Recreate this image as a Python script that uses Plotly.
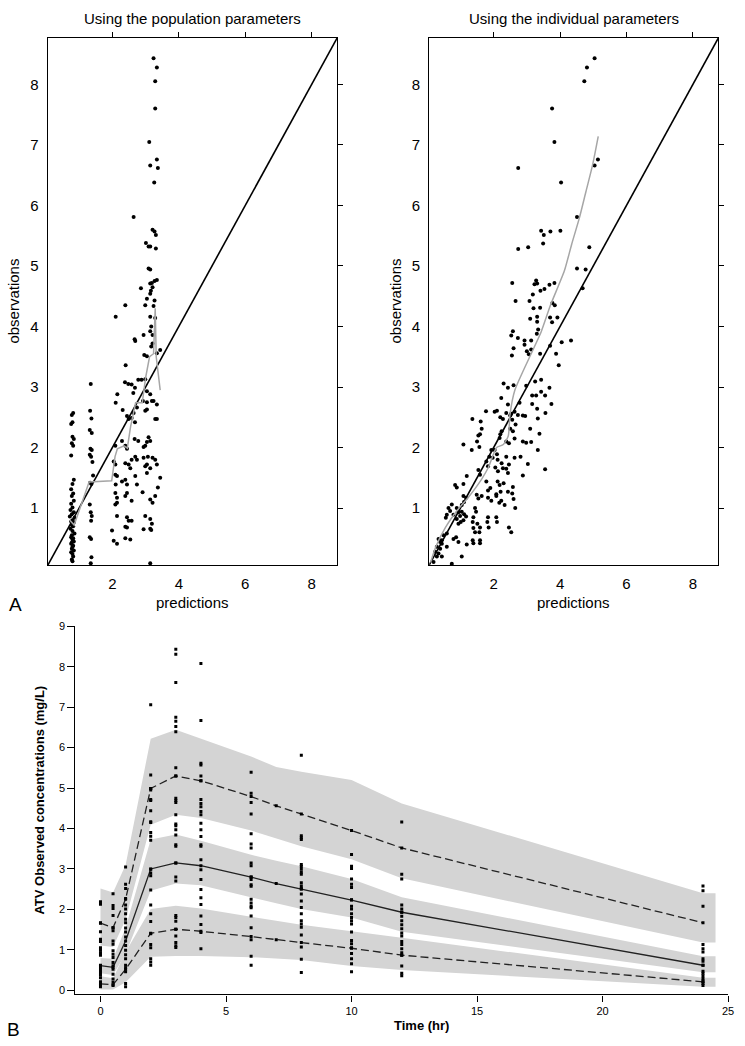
import plotly.graph_objects as go

# ---------------- Panel A : observations vs predictions ----------------
identity_line = [0, 9]

# population predictions (x = prediction, y = observation)
pop_col1 = [(0.82, 2.57), (0.78, 2.54), (0.80, 2.42), (0.76, 2.39), (0.80, 2.18), (0.84, 2.14),
            (0.78, 2.07), (0.82, 2.03), (0.76, 1.87), (0.84, 1.47), (0.80, 1.40), (0.76, 1.31),
            (0.82, 1.24), (0.78, 1.20), (0.84, 1.12), (0.76, 1.07), (0.80, 1.01), (0.74, 0.97),
            (0.84, 0.93), (0.78, 0.90), (0.72, 0.86), (0.86, 0.84), (0.80, 0.80), (0.76, 0.78),
            (0.84, 0.76), (0.78, 0.72), (0.82, 0.70), (0.74, 0.66), (0.80, 0.62), (0.86, 0.58),
            (0.78, 0.55), (0.76, 0.52), (0.82, 0.50), (0.80, 0.48), (0.84, 0.45), (0.78, 0.43),
            (0.76, 0.41), (0.82, 0.38), (0.80, 0.36), (0.78, 0.33), (0.84, 0.30), (0.76, 0.27),
            (0.80, 0.24), (0.82, 0.20), (0.78, 0.15), (0.80, 0.12)]
pop_col2 = [(1.35, 3.05), (1.33, 2.61), (1.37, 2.48), (1.32, 2.29), (1.38, 2.24), (1.34, 1.98),
            (1.38, 1.96), (1.32, 1.88), (1.36, 1.85), (1.40, 1.76), (1.42, 1.54), (1.33, 1.42),
            (1.37, 1.40), (1.32, 1.06), (1.35, 0.93), (1.38, 0.87), (1.36, 0.79), (1.32, 0.52),
            (1.36, 0.49), (1.37, 0.19), (1.35, 0.09)]
pop_spread = [(2.39, 4.35), (2.99, 4.35), (3.24, 4.34), (2.10, 4.16), (3.14, 4.16), (3.29, 4.14),
              (2.67, 3.79), (2.69, 3.76), (2.94, 3.86), (3.04, 3.51), (2.96, 3.53), (3.17, 4.00),
              (3.14, 3.92), (3.21, 3.86), (3.21, 3.72), (3.17, 3.67), (3.34, 3.56), (3.44, 3.61),
              (2.40, 3.36), (2.38, 3.08), (2.48, 3.05), (2.15, 2.88), (2.10, 2.74), (2.58, 3.04),
              (2.68, 2.99), (2.63, 2.90), (2.78, 3.12), (2.88, 3.12), (2.99, 3.13), (3.04, 2.93),
              (3.14, 2.88), (3.24, 2.77), (2.92, 2.77), (3.04, 2.75), (3.19, 2.77), (3.34, 2.71),
              (2.74, 2.66), (2.64, 2.57), (2.58, 2.49), (2.68, 2.42), (2.31, 2.62), (2.44, 2.52),
              (2.49, 2.47), (2.99, 2.61), (3.04, 2.63), (3.29, 2.47), (3.34, 2.47), (2.09, 2.03),
              (2.29, 2.11), (2.39, 2.03), (2.44, 1.98), (2.67, 2.14), (2.78, 2.11), (2.99, 2.03),
              (2.94, 2.01), (3.04, 2.09), (3.14, 2.11), (3.09, 2.17), (2.04, 1.77), (2.09, 1.72),
              (2.39, 1.74), (2.49, 1.72), (2.54, 1.66), (2.69, 1.85), (2.74, 1.80), (2.58, 1.80),
              (2.94, 1.83), (3.07, 1.85), (3.21, 1.83), (3.29, 1.80), (3.34, 1.72), (2.99, 1.69),
              (3.04, 1.72), (3.14, 1.66), (2.09, 1.55), (2.14, 1.53), (2.29, 1.44), (2.39, 1.47),
              (2.44, 1.39), (2.69, 1.53), (3.04, 1.58), (3.44, 1.50), (3.37, 1.34), (2.10, 1.39),
              (2.09, 1.25), (2.14, 1.17), (2.14, 1.09), (2.09, 1.06), (2.44, 1.25), (2.39, 1.20),
              (2.58, 1.12), (2.74, 1.39), (2.91, 1.26), (3.14, 1.14), (3.21, 1.09), (3.29, 1.20),
              (2.14, 0.87), (2.44, 0.85), (2.49, 0.79), (2.58, 0.79), (2.99, 0.87), (3.14, 0.82),
              (3.19, 0.74), (3.14, 0.66), (2.39, 0.69), (2.44, 0.68), (1.99, 0.63), (2.94, 0.65),
              (2.04, 0.46), (2.14, 0.41), (2.39, 0.50), (2.54, 0.48), (3.17, 0.64), (3.14, 0.09)]
pop_high = [(3.24, 8.43), (3.34, 8.28), (3.29, 8.05), (3.29, 7.60), (3.11, 7.05), (3.34, 6.76),
            (3.14, 6.66), (3.37, 6.62), (3.26, 6.38), (2.64, 5.81), (3.21, 5.60), (3.27, 5.57),
            (3.31, 5.51), (3.01, 5.38), (3.09, 5.32), (3.14, 5.32), (3.31, 5.29), (3.09, 4.96),
            (3.14, 4.94), (2.86, 4.63), (3.14, 4.71), (3.19, 4.72), (3.27, 4.75), (3.34, 4.77),
            (3.21, 4.65), (3.16, 4.59), (3.14, 4.54), (3.04, 4.46), (3.27, 4.43)]
pop_smooth_x = [0.72, 0.85, 1.30, 1.98, 2.08, 2.15, 2.35, 2.45, 2.55, 2.70, 2.90, 3.00, 3.12, 3.24, 3.29, 3.32, 3.44]
pop_smooth_y = [0.80, 0.72, 1.43, 1.45, 1.85, 1.98, 2.03, 1.99, 2.35, 2.74, 2.74, 3.15, 3.50, 3.55, 4.30, 3.50, 2.95]

# individual predictions
ind_high = [(5.04, 8.43), (4.81, 8.28), (4.73, 8.05), (3.76, 7.60), (3.83, 7.05), (2.74, 6.62),
            (5.14, 6.76), (5.04, 6.66), (4.03, 6.38), (4.51, 5.81), (3.43, 5.58), (3.51, 5.51),
            (3.71, 5.57), (4.01, 5.58), (3.49, 5.37), (2.74, 5.28), (3.04, 5.31), (4.88, 5.31),
            (4.51, 4.96), (4.77, 4.94), (4.68, 4.63)]
ind_mid = [(2.56, 4.72), (3.28, 4.76), (3.23, 4.70), (3.31, 4.71), (3.18, 4.53), (3.41, 4.59),
           (3.53, 4.62), (3.68, 4.69), (3.83, 4.72), (2.66, 4.42), (3.08, 4.42), (3.77, 4.39),
           (3.84, 4.35), (3.20, 4.30), (3.40, 4.31), (3.10, 4.13), (3.31, 4.16), (3.31, 4.08),
           (3.70, 4.15), (3.92, 4.15), (3.76, 4.07), (3.34, 3.95), (3.30, 3.88), (2.58, 3.92),
           (2.53, 3.85), (2.73, 3.81), (2.93, 3.77), (2.93, 3.70), (3.13, 3.77), (2.60, 3.64),
           (2.55, 3.52), (3.00, 3.59), (3.06, 3.54), (3.13, 3.62), (3.40, 3.55), (3.70, 3.68),
           (3.88, 3.55), (3.96, 3.36), (4.05, 3.74), (4.33, 3.77), (3.25, 3.09), (3.43, 3.12)]
ind_low = [(2.30, 3.06), (2.43, 2.99), (2.60, 3.03), (2.98, 3.02), (3.16, 2.86), (3.28, 2.86),
           (3.43, 2.92), (3.55, 2.86), (3.68, 2.99), (3.74, 2.72), (2.23, 2.82), (2.43, 2.71),
           (2.78, 2.74), (3.16, 2.72), (3.31, 2.64), (1.77, 2.60), (2.03, 2.59), (2.10, 2.61),
           (2.38, 2.57), (2.53, 2.56), (2.63, 2.59), (2.73, 2.54), (2.88, 2.53), (2.95, 2.52),
           (1.36, 2.47), (1.61, 2.43), (2.20, 2.50), (2.28, 2.47), (2.50, 2.53), (2.56, 2.46),
           (2.66, 2.38), (3.33, 2.48), (3.56, 2.57), (1.64, 2.31), (1.59, 2.22), (2.24, 2.27),
           (2.20, 2.22), (2.18, 2.16), (2.50, 2.31), (2.58, 2.27), (2.63, 2.15), (2.38, 2.10),
           (2.46, 2.07), (2.88, 2.10), (2.98, 2.08), (3.13, 2.09), (3.10, 2.31), (3.38, 2.23),
           (3.33, 1.96), (1.09, 2.05), (1.34, 1.96), (1.57, 2.01), (1.54, 2.20), (1.50, 2.10),
           (1.93, 1.96), (2.03, 1.96), (2.10, 1.89), (1.87, 1.85), (1.97, 1.83), (2.12, 1.80),
           (2.24, 1.74), (2.28, 1.66), (2.38, 1.85), (2.46, 1.72), (2.38, 1.65), (2.43, 1.58),
           (1.78, 1.77), (1.83, 1.69), (2.05, 1.67), (2.13, 1.61), (2.63, 1.83), (2.81, 1.85),
           (2.88, 1.54), (3.03, 1.73), (3.55, 1.64), (1.19, 1.53), (1.09, 1.40), (0.84, 1.38),
           (0.89, 1.34), (1.54, 1.63), (1.59, 1.55), (1.78, 1.44), (1.90, 1.33), (1.83, 1.29),
           (2.12, 1.44), (2.18, 1.38), (2.30, 1.41), (2.21, 1.27), (2.43, 1.27), (2.08, 1.23),
           (2.08, 1.20), (2.58, 1.35), (2.56, 1.24), (2.60, 1.15), (1.49, 1.22), (1.54, 1.16),
           (1.64, 1.20), (1.83, 1.17), (1.93, 1.12), (2.17, 1.09), (2.23, 1.12), (2.33, 1.05),
           (2.65, 1.00), (1.09, 1.20), (1.17, 1.17), (1.11, 1.10), (1.04, 1.05), (0.74, 1.06),
           (0.64, 1.00), (0.69, 0.95), (0.79, 0.89), (0.89, 1.00), (0.94, 0.93), (0.99, 0.87),
           (1.04, 0.94), (1.11, 0.90), (1.17, 0.86), (1.09, 0.80), (0.59, 0.89), (0.56, 0.84),
           (1.01, 0.77), (0.94, 0.74), (0.89, 0.82), (1.44, 1.00), (1.47, 0.94), (1.39, 0.85),
           (1.37, 0.77), (1.51, 0.74), (1.39, 0.67), (1.44, 0.60), (1.59, 0.68), (1.57, 0.60),
           (1.83, 0.85), (1.81, 0.77), (1.85, 0.68), (2.08, 0.85), (2.10, 0.77), (2.46, 0.68),
           (2.53, 0.60), (1.37, 0.47), (1.39, 0.42), (1.59, 0.47), (1.59, 0.42), (0.59, 0.58),
           (0.49, 0.55), (0.44, 0.47), (0.39, 0.44), (0.34, 0.49), (0.44, 0.41), (0.29, 0.36),
           (0.39, 0.33), (0.24, 0.28), (0.34, 0.25), (0.29, 0.20), (0.44, 0.20), (0.59, 0.36),
           (0.79, 0.49), (0.94, 0.44), (0.87, 0.52), (1.19, 0.40), (1.04, 0.20), (0.19, 0.11),
           (0.74, 0.08)]
ind_smooth_x = [0.10, 0.25, 0.55, 0.90, 1.24, 1.64, 1.84, 2.09, 2.29, 2.44, 2.49, 2.64, 3.13, 3.43, 3.71, 4.13, 4.35, 4.58, 4.78, 4.98, 5.15]
ind_smooth_y = [0.10, 0.35, 0.68, 0.96, 1.18, 1.48, 1.67, 2.00, 2.05, 2.19, 2.54, 2.95, 3.55, 3.91, 4.35, 4.92, 5.36, 5.79, 6.23, 6.67, 7.14]

axis_ticks_a = [2, 4, 6, 8]
axis_ticks_a_y = [1, 2, 3, 4, 5, 6, 7, 8]

# ---------------- Panel B : VPC ----------------
obs_times = [0, 0.5, 1, 2, 3, 4, 6, 8, 10, 12, 24]
obs_t0 = [2.19, 2.13, 1.67, 1.45, 1.26, 1.21, 1.05, 0.99, 0.93, 0.87, 0.62, 0.56, 0.50, 0.44, 0.38, 0.31, 0.21, 0.14, 0.09]
obs_t05 = [2.39, 2.10, 2.02, 1.85, 1.55, 1.47, 1.22, 1.14, 0.98, 0.89, 0.81, 0.69, 0.61, 0.52, 0.40, 0.28, 0.20, 0.12]
obs_t1 = [3.05, 2.62, 2.52, 2.27, 2.11, 2.01, 1.89, 1.76, 1.67, 1.54, 1.44, 1.32, 1.11, 0.99, 0.88, 0.78, 0.62, 0.56, 0.46, 0.17, 0.09]
obs_t2 = [7.06, 5.32, 4.99, 4.95, 4.72, 4.69, 4.44, 4.17, 4.15, 3.90, 3.81, 3.71, 2.99, 2.90, 2.83, 2.48, 2.11, 1.89, 1.70, 1.40, 1.13, 1.05, 0.78, 0.70, 0.62]
obs_t3 = [8.43, 8.31, 7.61, 6.75, 6.65, 6.52, 6.39, 5.50, 5.30, 4.75, 4.69, 4.64, 4.34, 4.11, 4.07, 3.97, 3.84, 3.60, 3.56, 3.15, 2.80, 2.70, 1.85, 1.80, 1.71, 1.51, 1.34, 1.18, 1.10, 1.06]
obs_t4 = [8.08, 6.67, 5.61, 5.57, 5.30, 5.18, 4.72, 4.62, 4.54, 4.42, 4.34, 4.13, 3.97, 3.80, 3.60, 3.56, 3.23, 2.98, 2.74, 2.49, 2.29, 2.12, 1.84, 1.63, 1.43, 1.03]
obs_t6 = [5.39, 4.87, 4.64, 4.36, 3.87, 3.62, 3.52, 3.15, 3.08, 2.80, 2.74, 2.61, 2.57, 2.25, 2.16, 2.08, 2.04, 1.84, 1.55, 1.25, 0.84, 0.62]
obs_t8 = [5.81, 3.82, 3.77, 3.73, 3.11, 3.06, 2.99, 2.92, 2.87, 2.66, 2.58, 2.52, 2.38, 2.21, 2.05, 1.89, 1.72, 1.64, 1.56, 1.37, 1.07, 0.77, 0.44]
obs_t10 = [3.36, 3.07, 3.01, 2.75, 2.62, 2.54, 2.24, 2.08, 2.01, 1.89, 1.80, 1.72, 1.64, 1.44, 1.23, 1.15, 1.05, 0.91, 0.78, 0.66, 0.46]
obs_t12 = [4.16, 2.87, 2.75, 2.11, 2.01, 1.93, 1.83, 1.72, 1.62, 1.52, 1.42, 1.34, 1.21, 1.13, 1.03, 0.93, 0.87, 0.60, 0.42, 0.36]
obs_t24 = [2.58, 2.46, 2.08, 1.13, 1.03, 0.95, 0.78, 0.72, 0.62, 0.47, 0.42, 0.36, 0.29, 0.23, 0.17, 0.12]
obs_columns = [obs_t0, obs_t05, obs_t1, obs_t2, obs_t3, obs_t4, obs_t6, obs_t8, obs_t10, obs_t12, obs_t24]

pred_times = [0, 0.5, 1, 2, 3, 4, 6, 7, 8, 10, 12, 24]
p95 = [1.66, 1.55, 2.25, 4.99, 5.30, 5.18, 4.79, 4.56, 4.36, 3.95, 3.52, 1.67]
p50 = [0.61, 0.57, 1.22, 3.00, 3.15, 3.08, 2.80, 2.64, 2.50, 2.23, 1.93, 0.62]
p05 = [0.16, 0.14, 0.52, 1.41, 1.51, 1.46, 1.33, 1.25, 1.18, 1.04, 0.87, 0.21]

band_times = [0, 0.5, 1, 2, 3, 4, 6, 7, 8, 10, 12, 24, 24.5]
hi_top = [2.52, 2.42, 3.10, 6.22, 6.44, 6.22, 5.78, 5.52, 5.40, 5.20, 4.62, 2.40, 2.40]
hi_bot = [1.11, 1.07, 1.75, 4.09, 4.34, 4.26, 3.95, 3.75, 3.56, 3.24, 2.77, 1.18, 1.18]
mid_top = [0.80, 0.78, 1.55, 3.73, 3.85, 3.70, 3.35, 3.20, 3.07, 2.75, 2.30, 0.84, 0.84]
mid_bot = [0.42, 0.38, 0.90, 2.46, 2.64, 2.60, 2.30, 2.15, 2.01, 1.80, 1.45, 0.45, 0.45]
lo_top = [0.35, 0.30, 0.95, 2.01, 2.09, 2.02, 1.82, 1.72, 1.62, 1.46, 1.30, 0.31, 0.31]
lo_bot = [0.02, 0.02, 0.20, 0.83, 0.85, 0.85, 0.82, 0.78, 0.75, 0.60, 0.50, 0.09, 0.09]

x_ticks_b = [0, 5, 10, 15, 20, 25]
y_ticks_b = [0, 1, 2, 3, 4, 5, 6, 7, 8, 9]

# ---------------- figure ----------------
W, H = 745, 1046
FONT = "Liberation Sans, Arial, sans-serif"
fig = go.Figure()


def px_x(p):
    return p / W


def px_y(p):
    return 1 - p / H


def add_scatter(points, xa, ya):
    fig.add_trace(go.Scatter(x=[p[0] for p in points], y=[p[1] for p in points], mode="markers",
                             marker=dict(color="black", size=4), xaxis=xa, yaxis=ya,
                             showlegend=False, hoverinfo="skip"))


# panel A left
fig.add_trace(go.Scatter(x=identity_line, y=identity_line, mode="lines", line=dict(color="black", width=1.6),
                         xaxis="x", yaxis="y", showlegend=False))
for pts in (pop_col1, pop_col2, pop_spread, pop_high):
    add_scatter(pts, "x", "y")
fig.add_trace(go.Scatter(x=pop_smooth_x, y=pop_smooth_y, mode="lines", line=dict(color="#a6a6a6", width=1.5),
                         xaxis="x", yaxis="y", showlegend=False))

# panel A right
fig.add_trace(go.Scatter(x=identity_line, y=identity_line, mode="lines", line=dict(color="black", width=1.6),
                         xaxis="x2", yaxis="y2", showlegend=False))
for pts in (ind_high, ind_mid, ind_low):
    add_scatter(pts, "x2", "y2")
fig.add_trace(go.Scatter(x=ind_smooth_x, y=ind_smooth_y, mode="lines",
                         line=dict(color="#a6a6a6", width=1.5, shape="spline", smoothing=0.6),
                         xaxis="x2", yaxis="y2", showlegend=False))

# empty traces on tick-only overlay axes
for xa, ya in (("x4", "y4"), ("x5", "y5")):
    fig.add_trace(go.Scatter(x=[], y=[], xaxis=xa, yaxis=ya, showlegend=False))

# panel B bands
for top, bot in ((hi_top, hi_bot), (mid_top, mid_bot), (lo_top, lo_bot)):
    fig.add_trace(go.Scatter(x=band_times + band_times[::-1], y=top + bot[::-1], fill="toself",
                             fillcolor="#d4d4d4", line=dict(width=0), mode="lines",
                             xaxis="x3", yaxis="y3", showlegend=False, hoverinfo="skip"))
# panel B percentile lines
for vals, dash in ((p95, "8px,4px"), (p50, "solid"), (p05, "8px,4px")):
    fig.add_trace(go.Scatter(x=pred_times, y=vals, mode="lines+markers",
                             line=dict(color="#222222", width=1.3, dash=dash),
                             marker=dict(color="black", size=3, symbol="square"),
                             xaxis="x3", yaxis="y3", showlegend=False))
# panel B observations
for t, col in zip(obs_times, obs_columns):
    fig.add_trace(go.Scatter(x=[t] * len(col), y=col, mode="markers",
                             marker=dict(color="black", size=3, symbol="square"),
                             xaxis="x3", yaxis="y3", showlegend=False))

A_RANGE = [0.06, 8.77]
tick_font_a = dict(family=FONT, size=15, color="black")
base_x_a = dict(range=A_RANGE, tickvals=axis_ticks_a, showgrid=False, zeroline=False, showline=True,
                linecolor="black", linewidth=1.4, mirror=True, ticks="outside", ticklen=5,
                tickcolor="rgba(0,0,0,0)", tickfont=tick_font_a)
base_y_a = dict(range=A_RANGE, tickvals=axis_ticks_a_y, showgrid=False, zeroline=False, showline=True,
                linecolor="black", linewidth=1.4, mirror=True, ticks="outside", ticklen=5,
                tickcolor="rgba(0,0,0,0)", tickfont=tick_font_a)
over_x = dict(range=A_RANGE, tickvals=axis_ticks_a, showgrid=False, zeroline=False, showline=False,
              ticks="outside", ticklen=5, tickwidth=1.2, tickcolor="black", showticklabels=False, side="top")
over_y = dict(range=A_RANGE, tickvals=axis_ticks_a_y, showgrid=False, zeroline=False, showline=False,
              ticks="outside", ticklen=5, tickwidth=1.2, tickcolor="black", showticklabels=False, side="right")

dom_y_a = [px_y(563.3), px_y(32)]
fig.update_layout(
    width=W, height=H, margin=dict(l=0, r=0, t=0, b=0),
    paper_bgcolor="white", plot_bgcolor="rgba(0,0,0,0)", showlegend=False,
    font=dict(family=FONT, color="black"),
    xaxis=dict(domain=[px_x(48.3), px_x(340)], anchor="y", **base_x_a),
    yaxis=dict(domain=dom_y_a, anchor="x", **base_y_a),
    xaxis2=dict(domain=[px_x(432.7), px_x(724.3)], anchor="y2", **base_x_a),
    yaxis2=dict(domain=dom_y_a, anchor="x2", **base_y_a),
    xaxis4=dict(overlaying="x", anchor="y", **over_x),
    yaxis4=dict(overlaying="y", anchor="x", **over_y),
    xaxis5=dict(overlaying="x2", anchor="y2", **over_x),
    yaxis5=dict(overlaying="y2", anchor="x2", **over_y),
    xaxis3=dict(domain=[px_x(76), px_x(734)], anchor="y3", range=[-1, 25], tickvals=x_ticks_b,
                showgrid=False, zeroline=False, showline=True, linecolor="black", linewidth=1.3,
                ticks="outside", ticklen=6, tickwidth=1.1, tickcolor="black", ticklabeloverflow="allow",
                tickfont=dict(family=FONT, size=11, color="black")),
    yaxis3=dict(domain=[px_y(996), px_y(625)], anchor="x3", range=[-0.1, 9], tickvals=y_ticks_b,
                showgrid=False, zeroline=False, showline=True, linecolor="black", linewidth=1.3,
                ticks="outside", ticklen=7, tickwidth=1.1, tickcolor="black",
                tickfont=dict(family=FONT, size=11, color="black")),
)

ann = []


def label(text, x, y, size, angle=0, bold=False):
    ann.append(dict(text=f"<b>{text}</b>" if bold else text, x=px_x(x), y=px_y(y), xref="paper", yref="paper",
                    showarrow=False, textangle=angle, xanchor="center", yanchor="middle",
                    font=dict(family=FONT, size=size, color="black")))


label("Using the population parameters", 194, 13, 15)
label("Using the individual parameters", 578.5, 13, 15)
label("observations", 14, 297, 15, angle=-90)
label("observations", 399, 297, 15, angle=-90)
label("predictions", 194, 601, 15)
label("predictions", 578.5, 601, 15)
label("A", 16, 603, 19)
label("B", 14, 1031, 19)
label("ATV Observed concentrations (mg/L)", 40, 800, 13, angle=-90, bold=True)
label("Time (hr)", 425, 1027, 13, bold=True)
fig.update_layout(annotations=ann)

fig.write_html("out.html", config={"displayModeBar": False},
               post_script="document.body.style.margin='0';document.body.style.overflow='hidden';")
